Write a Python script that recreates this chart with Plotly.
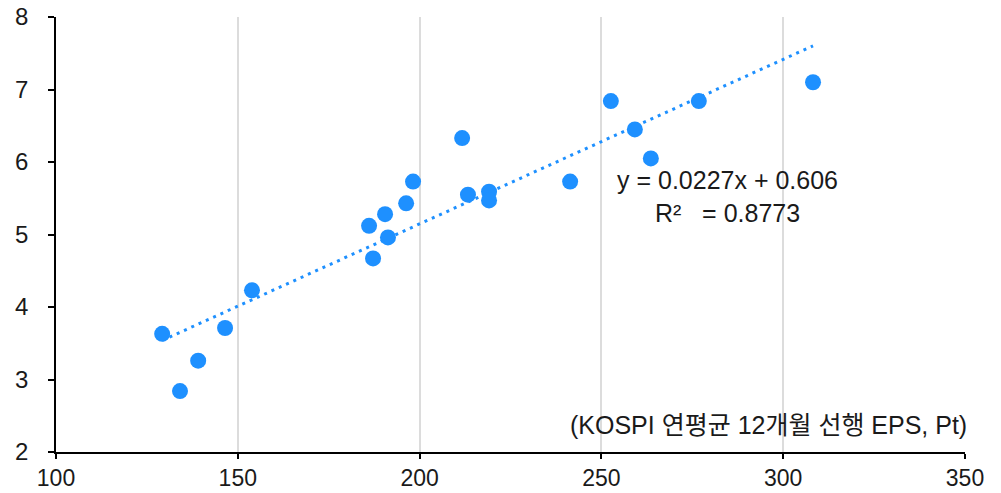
import plotly.graph_objects as go

# KOSPI annual average 12M forward EPS (x) vs value (y)
eps_x = [129.2, 134.1, 139.1, 146.5, 153.9, 186.1, 187.2, 190.5, 191.3, 196.3,
         198.2, 211.7, 213.3, 219.1, 219.1, 241.4, 252.6, 259.2, 263.6, 276.8, 308.2]
val_y = [3.63, 2.84, 3.26, 3.71, 4.23, 5.12, 4.67, 5.28, 4.96, 5.43,
         5.73, 6.33, 5.55, 5.59, 5.47, 5.73, 6.84, 6.45, 6.05, 6.84, 7.10]

slope = 0.0227
intercept = 0.606
r2 = 0.8773

x_ticks = [100, 150, 200, 250, 300, 350]
y_ticks = [2, 3, 4, 5, 6, 7, 8]

blue = "#1E90FF"
font_family = "Liberation Sans, Arial, Noto Sans CJK KR, sans-serif"
text_color = "#1a1a1a"
fs = 24

trend_x = [min(eps_x), max(eps_x)]
trend_y = [slope * v + intercept for v in trend_x]

fig = go.Figure()
fig.add_trace(go.Scatter(
    x=trend_x, y=trend_y, mode="lines",
    line=dict(color=blue, width=3, dash="3px,5px"),
    hoverinfo="skip", showlegend=False,
))
fig.add_trace(go.Scatter(
    x=eps_x, y=val_y, mode="markers",
    marker=dict(color=blue, size=16, line=dict(width=0)),
    showlegend=False,
))

fig.add_annotation(
    x=284.8, y=5.52, xref="x", yref="y",
    text=f"y = {slope}x + {intercept}<br>R²   = {r2}",
    showarrow=False, align="center",
    font=dict(family=font_family, size=25, color=text_color),
    xanchor="center", yanchor="middle",
)
fig.add_annotation(
    x=1.0, y=2.373, xref="paper", yref="y",
    text="(KOSPI 연평균 12개월 선행 EPS, Pt)",
    showarrow=False, xanchor="right", yanchor="middle", xshift=4,
    font=dict(family=font_family, size=25, color=text_color),
)

fig.update_layout(
    width=1001, height=493,
    margin=dict(l=56, r=36, t=17, b=41),
    paper_bgcolor="white", plot_bgcolor="white",
    font=dict(family=font_family, size=fs, color=text_color),
)
fig.update_xaxes(
    range=[100, 350], tickvals=x_ticks, ticktext=[str(v) for v in x_ticks],
    tickfont=dict(size=23),
    showgrid=True, gridcolor="#dcdcdc", gridwidth=2,
    showline=True, linecolor="#000000", linewidth=1.5,
    ticks="outside", ticklen=5, tickcolor="#000000", tickwidth=1.5,
    zeroline=False, ticklabelstandoff=0, automargin=False,
)
fig.update_yaxes(
    range=[2, 8], tickvals=y_ticks, ticktext=[str(v) for v in y_ticks],
    showgrid=False,
    showline=True, linecolor="#000000", linewidth=1.5,
    ticks="outside", ticklen=6, tickcolor="#000000", tickwidth=1.5,
    zeroline=False, ticklabelstandoff=15, automargin=False,
)

fig.write_html("out.html")
